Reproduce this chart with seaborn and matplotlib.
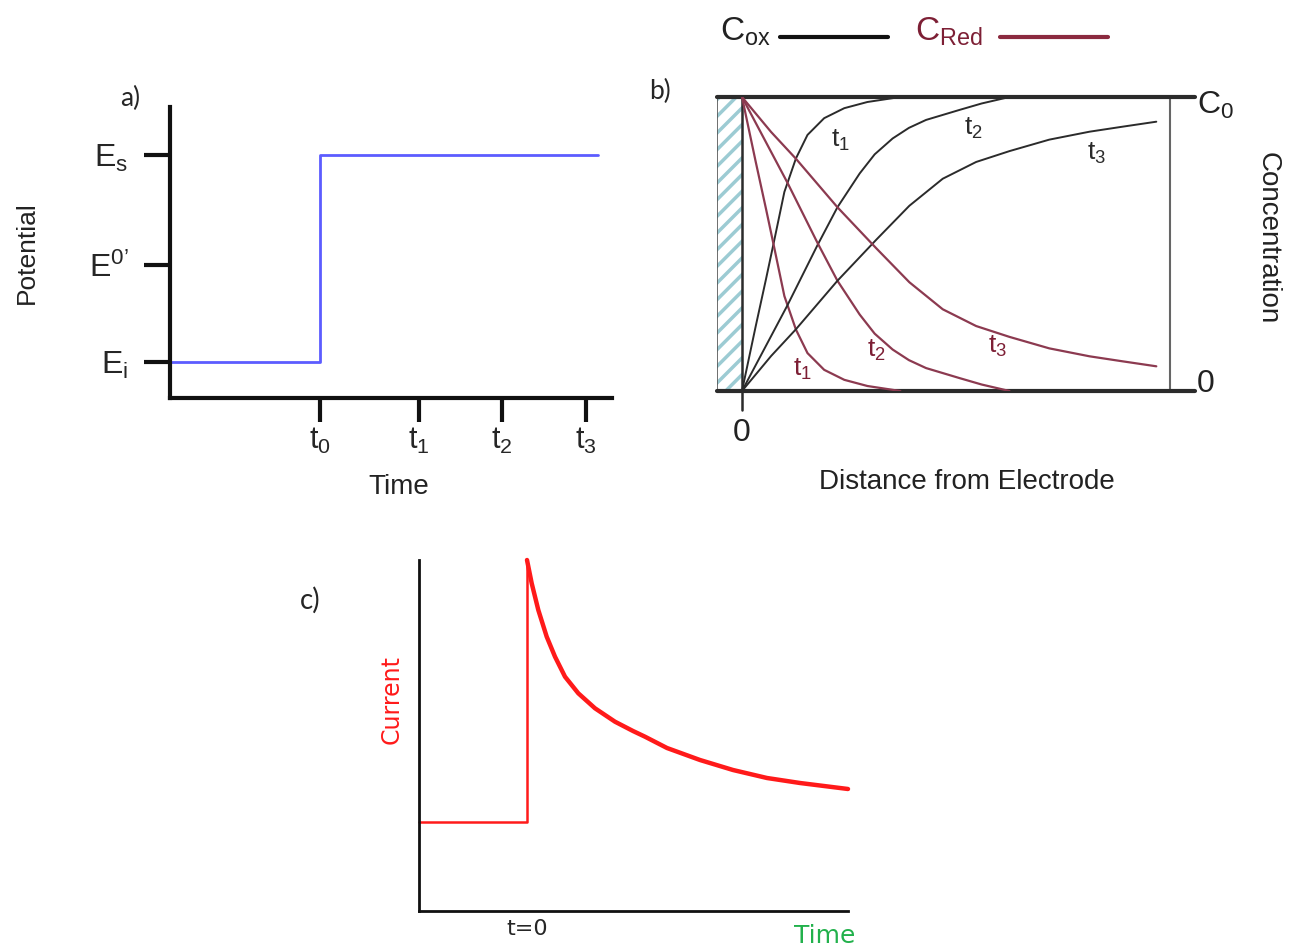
import numpy as np
import pandas as pd
import matplotlib
matplotlib.use("Agg")
import matplotlib.pyplot as plt
from matplotlib.patches import Rectangle
import seaborn as sns

# panel a: potential step
step_time = [0.0, 1.50, 1.50, 4.28]
step_potential = [0.36, 0.36, 2.43, 2.43]
a_tick_pos = [1.50, 2.49, 3.32, 4.16]
a_tick_labels = ["t$_0$", "t$_1$", "t$_2$", "t$_3$"]
e_tick_pos = [0.36, 1.33, 2.43]
e_tick_labels = ["E$_i$", "E$^{0\u2019}$", "E$_s$"]

# panel b: concentration profiles of C_ox (C_red mirrors them: C0 - C_ox)
ox_t1_d = [0.0, 0.032, 0.056, 0.075, 0.099, 0.126, 0.153, 0.192, 0.239, 0.293, 0.37]
ox_t1_c = [0.0, 0.22, 0.38, 0.51, 0.677, 0.791, 0.871, 0.928, 0.962, 0.983, 1.0]
ox_t2_d = [0.0, 0.106, 0.176, 0.223, 0.275, 0.31, 0.352, 0.39, 0.430, 0.508, 0.560, 0.625]
ox_t2_c = [0.0, 0.291, 0.495, 0.625, 0.74, 0.805, 0.859, 0.895, 0.922, 0.956, 0.978, 1.0]
ox_t3_d = [0.0, 0.068, 0.126, 0.223, 0.275, 0.314, 0.391, 0.469, 0.547, 0.625, 0.718, 0.812, 0.889, 0.968]
ox_t3_c = [0.0, 0.119, 0.210, 0.375, 0.455, 0.515, 0.630, 0.722, 0.779, 0.816, 0.855, 0.882, 0.899, 0.916]

# panel c: current response
c_time = [-1.08, 0.0, 0.0, 0.047, 0.113, 0.197, 0.28, 0.38, 0.513, 0.68, 0.88, 1.06, 1.18,
          1.40, 1.73, 2.06, 2.40, 2.73, 3.21]
c_current = [0.89, 0.89, 3.51, 3.277, 3.01, 2.743, 2.543, 2.343, 2.177, 2.027, 1.893, 1.80, 1.743,
             1.63, 1.51, 1.41, 1.33, 1.28, 1.22]

sns.set_style("white")
plt.rcParams["font.family"] = ["Liberation Sans", "DejaVu Sans"]
plt.rcParams["mathtext.fontset"] = "custom"
plt.rcParams["mathtext.rm"] = "Liberation Sans"
plt.rcParams["mathtext.default"] = "regular"
plt.rcParams["hatch.linewidth"] = 2.5

W, H = 1298, 948
fig = plt.figure(figsize=(W / 100, H / 100), dpi=100)


def box(x0, y0, x1, y1):
    # pixel box -> figure fraction [left, bottom, width, height]
    return [x0 / W, 1 - y1 / H, (x1 - x0) / W, (y1 - y0) / H]


def px(x, y):
    return x / W, 1 - y / H


DARK = "#2b2b2b"
MAROON = "#8c3a50"
MAROON_TXT = "#7d1f35"

# ---------------- panel a ----------------
ax_a = fig.add_axes(box(170, 107, 612, 398))
sns.lineplot(x=step_time, y=step_potential, sort=False, estimator=None,
             color="#5c5cff", lw=2, ax=ax_a)
ax_a.set_xlim(0, 4.42)
ax_a.set_ylim(0, 2.91)
for s in ["top", "right"]:
    ax_a.spines[s].set_visible(False)
for s in ["left", "bottom"]:
    ax_a.spines[s].set_linewidth(3)
    ax_a.spines[s].set_color("#111111")
ax_a.set_xticks(a_tick_pos)
ax_a.set_xticklabels(a_tick_labels, fontsize=22)
ax_a.set_yticks(e_tick_pos)
ax_a.set_yticklabels(e_tick_labels, fontsize=23)
ax_a.tick_params(axis="x", direction="out", length=17, width=3, pad=3, bottom=True, color="#111111")
ax_a.tick_params(axis="y", direction="out", length=19, width=3, pad=11, left=True, color="#111111")
ax_a.set_xlabel("")
ax_a.set_ylabel("")
fig.text(*px(399, 487), "Time", fontsize=20, ha="center", va="center", color="#222222")
fig.text(*px(27, 253), "Potential", fontsize=19, ha="center", va="center", rotation=90, color="#222222")
fig.text(*px(130, 98), "a)", fontsize=19, family="Lato", ha="center", va="center")

# ---------------- panel b ----------------
ax_b = fig.add_axes(box(717, 97, 1170, 391))
ax_b.axis("off")

ax_b.add_patch(Rectangle((-0.0584, 0), 0.0584, 1, hatch="//", fill=False,
                         edgecolor="#9ccbd3", lw=0))
ax_b.plot([-0.0584, -0.0584], [0, 1], color="#555555", lw=1.2)
ax_b.plot([1.0, 1.0], [0, 1], color="#666666", lw=1.5, clip_on=False)
ax_b.plot([-0.0584, 1.058], [1, 1], color=DARK, lw=3, clip_on=False)
ax_b.plot([-0.0584, 1.058], [0, 0], color=DARK, lw=3, clip_on=False)
ax_b.plot([0, 0], [-0.065, 1], color=DARK, lw=1.8, clip_on=False)

profiles = [(ox_t1_d, ox_t1_c), (ox_t2_d, ox_t2_c), (ox_t3_d, ox_t3_c)]
for d, c in profiles:
    sns.lineplot(x=d, y=c, color=DARK, lw=1.4, ax=ax_b, estimator=None, sort=False)
    sns.lineplot(x=d, y=1 - np.array(c), color=MAROON, lw=1.6, ax=ax_b,
                 estimator=None, sort=False)
ax_b.set_xlim(-0.0584, 1.0)
ax_b.set_ylim(0, 1)
ax_b.axis("off")

for (x, y), lab in zip([(840, 140), (973, 128), (1097, 153)], ["t$_1$", "t$_2$", "t$_3$"]):
    fig.text(*px(x, y), lab, fontsize=19, ha="center", va="center", color=DARK)
for (x, y), lab in zip([(802, 369), (876, 350), (998, 346)], ["t$_1$", "t$_2$", "t$_3$"]):
    fig.text(*px(x, y), lab, fontsize=19, ha="center", va="center", color=MAROON_TXT)

fig.text(*px(1197, 105), "C$_0$", fontsize=23, ha="left", va="center", color="#222222")
fig.text(*px(1197, 384), "0", fontsize=23, ha="left", va="center", color="#222222")
fig.text(*px(742, 433), "0", fontsize=23, ha="center", va="center", color="#222222")
fig.text(*px(967, 482), "Distance from Electrode", fontsize=20, ha="center", va="center", color="#222222")
fig.text(*px(1268, 238), "Concentration", fontsize=20, ha="center", va="center", rotation=270, color="#222222")
fig.text(*px(660, 91), "b)", fontsize=19, family="Lato", ha="center", va="center")

# legend on top
fig.text(*px(720, 32), "C$_{ox}$", fontsize=24, ha="left", va="center", color="#222222")
fig.add_artist(plt.Line2D([780 / W, 888 / W], [1 - 37 / H, 1 - 37 / H], color="#111111", lw=3))
fig.text(*px(915, 32), "C$_{Red}$", fontsize=24, ha="left", va="center", color=MAROON_TXT)
fig.add_artist(plt.Line2D([1000 / W, 1108 / W], [1 - 37 / H, 1 - 37 / H], color="#8b2a3f", lw=3))

# ---------------- panel c ----------------
ax_c = fig.add_axes(box(419, 560, 848, 911))
n_step = 3
sns.lineplot(x=c_time[:n_step], y=c_current[:n_step], sort=False, estimator=None,
             color="#ff1a1a", lw=1.8, ax=ax_c)
sns.lineplot(x=c_time[n_step - 1:], y=c_current[n_step - 1:], sort=False, estimator=None,
             color="#ff1a1a", lw=3.2, ax=ax_c)
for ln in ax_c.lines:
    ln.set_clip_on(False)
ax_c.set_xlim(-1.08, 3.21)
ax_c.set_ylim(0, 3.51)
for s in ["top", "right"]:
    ax_c.spines[s].set_visible(False)
for s in ["left", "bottom"]:
    ax_c.spines[s].set_linewidth(2)
    ax_c.spines[s].set_color("#111111")
ax_c.set_xticks([0.0])
ax_c.set_xticklabels(["t=0"], family="DejaVu Sans", fontsize=16)
ax_c.tick_params(axis="x", length=0, pad=6)
ax_c.set_yticks([])
fig.text(*px(825, 936), "Time", family="DejaVu Sans", fontsize=18, ha="center", va="center", color="#22b14c")
fig.text(*px(392, 700), "Current", family="DejaVu Sans", fontsize=17, ha="center", va="center",
         rotation=90, color="#ff1a1a")
fig.text(*px(310, 600), "c)", fontsize=20, family="Lato", ha="center", va="center")

fig.savefig("out.png", dpi=100)
